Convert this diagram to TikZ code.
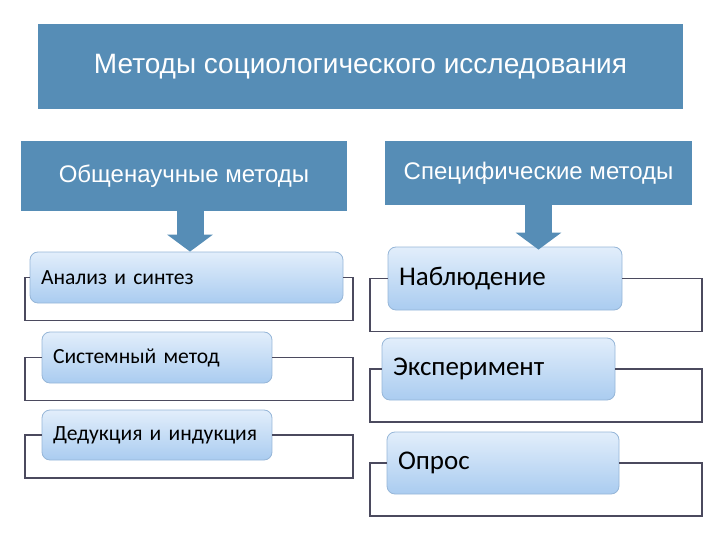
\documentclass[tikz,border=0pt]{standalone}
\usepackage{fontspec}
\usepackage{tikz}
\usetikzlibrary{arrows.meta}
\newfontfamily\hdrfont{Liberation Sans}
\newfontfamily\boxfont{Carlito}
\definecolor{hdrblue}{RGB}{86,141,182}
\definecolor{boxtop}{RGB}{226,238,251}
\definecolor{boxbot}{RGB}{170,204,240}
\definecolor{boxline}{RGB}{150,182,216}
\definecolor{brline}{RGB}{75,74,94}
\tikzset{
  hdr/.style={fill=hdrblue, text=white, font=\hdrfont\fontsize{24}{28}\selectfont},
  item/.style={rounded corners=8pt, draw=boxline, line width=0.8pt,
    top color=boxtop, bottom color=boxbot, inner xsep=11pt, align=left,
    font=\boxfont\fontsize{21.6}{25}\selectfont},
  bigitem/.style={item, font=\boxfont\fontsize{27}{31}\selectfont},
  bracket/.style={draw=brline, line width=1.8pt},
  blockarrow/.style={hdrblue, line width=27pt, -{Triangle[width=45pt,length=17pt]}}
}
\begin{document}
\begin{tikzpicture}[x=1pt, y=-1pt]
\useasboundingbox (0,0) rectangle (720,540);

\node[hdr, minimum width=645, minimum height=85, font=\hdrfont\fontsize{28}{32}\selectfont] (top) at (360.5,66.5) {Методы социологического исследования};
\node[hdr, minimum width=326, minimum height=70] (gen) at (184,176) {Общенаучные методы};
\node[hdr, minimum width=307, minimum height=64] (spec) at (538.5,173) {Специфические методы};

\node[item, minimum width=313, minimum height=51, text width=291] (a1) at (186.5,277.5) {Анализ и синтез};
\node[item, minimum width=230, minimum height=51, text width=208] (a2) at (157,357.5) {Системный метод};
\node[item, minimum width=230, minimum height=50, text width=208] (a3) at (157,435) {Дедукция и индукция};

\node[bigitem, minimum width=234, minimum height=63, text width=212] (b1) at (505,278.5) {Наблюдение};
\node[bigitem, minimum width=233, minimum height=62, text width=211] (b2) at (498.5,369) {Эксперимент};
\node[bigitem, minimum width=232, minimum height=62, text width=210] (b3) at (503,463) {Опрос};

\coordinate (ll) at (25,0);
\coordinate (lr) at (353,0);
\coordinate (rl) at (370,0);
\coordinate (rr) at (702,0);

% frames round the boxes
\foreach \n in {a1,a2,a3}
  \draw[bracket] (\n.west) -- (\n.west -| ll) -- ++(0,43) -| (\n.east -| lr) -- (\n.east);
\foreach \n in {b1,b2,b3}
  \draw[bracket] (\n.west) -- (\n.west -| rl) -- ++(0,53) -| (\n.east -| rr) -- (\n.east);

\draw[blockarrow] ([xshift=6pt]gen.south) -- ([xshift=6pt]gen.south |- a1.north);
\draw[blockarrow] (spec.south) -- ([yshift=-3pt]spec.south |- b1.north);
\end{tikzpicture}
\end{document}
